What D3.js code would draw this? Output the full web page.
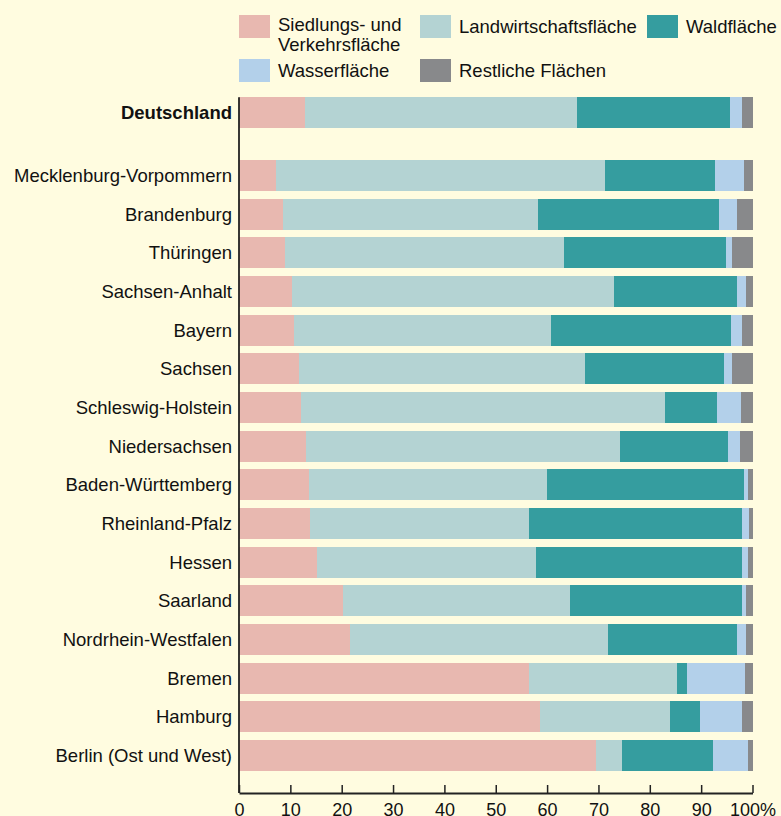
<!DOCTYPE html>
<html><head><meta charset="utf-8">
<script src="https://cdn.jsdelivr.net/npm/d3@7"></script>
<style>
html,body{margin:0;padding:0;background:#fffce0;}
svg{display:block;font-family:"Liberation Sans",Arial,Helvetica,sans-serif;}
</style></head><body>
<svg id="c" width="781" height="816"></svg>
<script>
const seriesNames = ["Siedlungs- und Verkehrsfläche","Landwirtschaftsfläche","Waldfläche","Wasserfläche","Restliche Flächen"];
const seriesColors = ["#e8b8b0","#b4d3d3","#359d9f","#b3d0ea","#88898b"];
const totalLabel = ["Deutschland"];
const totalValues = [[12.8,53.1,29.8,2.3,2.0]];
const states = ["Mecklenburg-Vorpommern","Brandenburg","Thüringen","Sachsen-Anhalt","Bayern","Sachsen","Schleswig-Holstein","Niedersachsen","Baden-Württemberg","Rheinland-Pfalz","Hessen","Saarland","Nordrhein-Westfalen","Bremen","Hamburg","Berlin (Ost und West)"];
const siedlung =  [7.2, 8.6, 9.0,10.3,10.7,11.7,12.1,13.0,13.7,13.9,15.2,20.3,21.7,56.5,58.7,69.6];
const landwirt =  [64.1,49.7,54.2,62.8,50.1,55.7,70.9,61.1,46.3,42.6,42.7,44.1,50.2,28.7,25.3,4.9];
const wald =      [21.3,35.1,31.7,23.8,35.1,27.0,10.0,21.2,38.3,41.5,40.0,33.5,25.0,2.0,5.8,17.9];
const wasser =    [5.7, 3.5, 1.2, 1.9, 2.0, 1.7, 4.8, 2.3, 0.9, 1.4, 1.3, 0.9, 1.8,11.3,8.2,6.8];
const rest =      [1.7, 3.1, 3.9, 1.2, 2.1, 3.9, 2.2, 2.4, 0.8, 0.6, 0.8, 1.2, 1.3, 1.5,2.0,0.8];
const xTicks = [0,10,20,30,40,50,60,70,80,90,100];

const svg = d3.select("#c");
const x = d3.scaleLinear().domain([0,100]).range([239,752.5]);
const yTop = d3.scaleBand().domain(totalLabel).range([93.4,132.1]).paddingInner(0.2).paddingOuter(0.1);
const y = d3.scaleBand().domain(states).range([156.1,774.8]).paddingInner(0.2).paddingOuter(0.1);

const rows = [];
totalLabel.forEach((n,i)=>rows.push({name:n, vals:totalValues[i], scale:yTop, bold:true}));
states.forEach((n,i)=>rows.push({name:n, vals:[siedlung[i],landwirt[i],wald[i],wasser[i],rest[i]], scale:y, bold:false}));

const g = svg.append("g");
rows.forEach(r=>{
  let cum = 0;
  const segs = r.vals.map((v,k)=>{const s={x0:cum,x1:cum+v,k}; cum+=v; return s;});
  // normalize to 100
  const tot = cum;
  g.selectAll(null).data(segs).enter().append("rect")
    .attr("x", d=>x(d.x0*100/tot))
    .attr("width", d=>x(d.x1*100/tot)-x(d.x0*100/tot))
    .attr("y", r.scale(r.name))
    .attr("height", r.scale.bandwidth())
    .attr("fill", d=>seriesColors[d.k])
    .attr("shape-rendering","crispEdges");
  svg.append("text")
    .attr("x", 232)
    .attr("y", r.scale(r.name)+r.scale.bandwidth()/2)
    .attr("dy","0.35em")
    .attr("text-anchor","end")
    .attr("font-size","18.5px")
    .attr("font-weight", r.bold?"bold":"normal")
    .attr("fill","#111")
    .text(r.name);
});

// y axis line
svg.append("line").attr("x1",x(0)).attr("x2",x(0)).attr("y1",yTop(totalLabel[0])).attr("y2",793)
  .attr("stroke","#222").attr("stroke-width",1.8);

// x axis
const xa = svg.append("g").attr("transform","translate(0,793)")
  .call(d3.axisBottom(x).tickValues(xTicks).tickSizeInner(-8).tickSizeOuter(0).tickPadding(10)
    .tickFormat(d=>d===100?"100%":String(d)));
xa.select(".domain").attr("stroke","#222").attr("stroke-width",1.8);
xa.selectAll(".tick line").attr("stroke","#222").attr("stroke-width",1.5);
xa.selectAll(".tick text").attr("font-size","18px").attr("fill","#111")
  .attr("font-family","Liberation Sans, Arial, sans-serif");

// legend
const legendPos = [
  {k:0, x:239, y:15, lines:["Siedlungs- und","Verkehrsfläche"]},
  {k:1, x:420, y:15, lines:["Landwirtschaftsfläche"]},
  {k:2, x:647, y:15, lines:["Waldfläche"]},
  {k:3, x:239, y:59, lines:["Wasserfläche"]},
  {k:4, x:420, y:59, lines:["Restliche Flächen"]}
];
const lg = svg.append("g");
legendPos.forEach(p=>{
  lg.append("rect").attr("x",p.x).attr("y",p.y).attr("width",31).attr("height",23)
    .attr("fill",seriesColors[p.k]);
  const t = lg.append("text").attr("font-size","18.5px").attr("fill","#111");
  if(p.lines.length===1){
    t.append("tspan").attr("x",p.x+39).attr("y",p.y+17.5).text(p.lines[0]);
  } else {
    t.append("tspan").attr("x",p.x+39).attr("y",p.y+15.5).text(p.lines[0]);
    t.append("tspan").attr("x",p.x+39).attr("y",p.y+35.5).text(p.lines[1]);
  }
});
</script>
</body></html>
